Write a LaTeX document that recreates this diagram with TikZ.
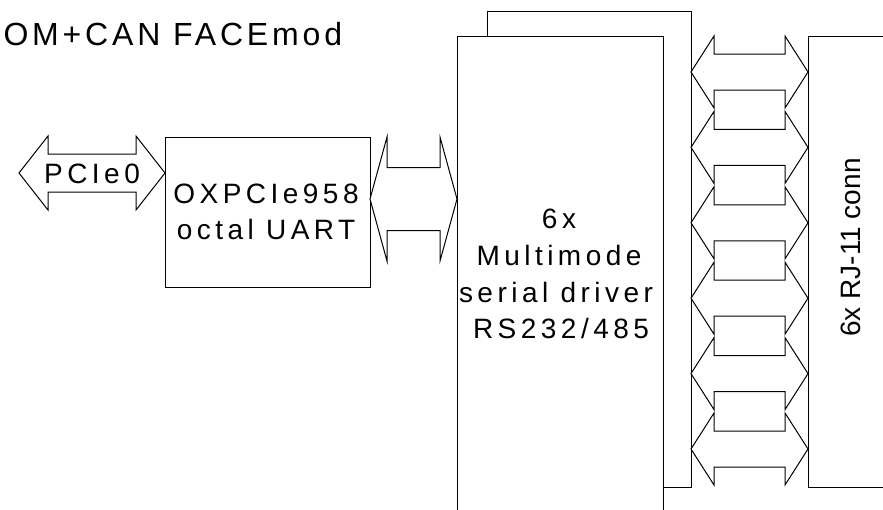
\documentclass[tikz,border=0pt]{standalone}
\usepackage{fontspec}
\setmainfont{Liberation Sans}
\newfontfamily\lsf{Liberation Sans}[LetterSpace=16]
\newfontfamily\tsf{Liberation Sans}[LetterSpace=12]
\newcommand\dblarrow[6]{% x1, x2, yc, headhalf, shafthalf, headlen
  \draw[arr] (#1,#3) -- ({#1+#6},{#3-#4}) -- ({#1+#6},{#3-#5}) -- ({#2-#6},{#3-#5})
    -- ({#2-#6},{#3-#4}) -- (#2,#3) -- ({#2-#6},{#3+#4}) -- ({#2-#6},{#3+#5})
    -- ({#1+#6},{#3+#5}) -- ({#1+#6},{#3+#4}) -- cycle;}
\begin{document}
\begin{tikzpicture}[x=1pt,y=-1pt,line width=1pt,line join=miter,
  box/.style={draw,fill=white,rectangle,inner sep=0pt,anchor=north west},
  arr/.style={draw,fill=white},
  lbl/.style={font=\lsf\fontsize{28}{34}\selectfont,inner sep=0pt,anchor=base},
  ttl/.style={font=\tsf\fontsize{32}{38}\selectfont,inner sep=0pt,anchor=base west},
  vlbl/.style={font=\fontsize{28}{34}\selectfont,inner sep=0pt,rotate=90}]
\clip (0,0) rectangle (883,509);
\fill[white] (0,0) rectangle (883,509);
% title
\node[ttl] (title) at (3,45) {OM+CAN FACEmod};
% boxes
\node[box,minimum width=205,minimum height=150] (uart) at (165,137) {};
\node[box,minimum width=204,minimum height=476] (back) at (487,11) {};
\node[box,minimum width=206,minimum height=500] (drv) at (457,36) {};
\node[box,minimum width=110,minimum height=451] (rj) at (808,36) {};
% arrows
\dblarrow{19}{165}{173}{37}{19}{29}
\dblarrow{370}{457}{199}{62}{31.5}{17}
\foreach \k in {0,...,5}{
  \pgfmathsetmacro\yc{72+75.4*\k}
  \dblarrow{691}{808}{\yc}{36}{18}{23}
}
% labels
\node[lbl] (pcie) at (92,183) {PCIe0};
\node[lbl] (u1) at (266,203) {OXPCIe958};
\node[lbl] (u2) at (266,239) {octal UART};
\node[lbl] (d1) at (559,228) {6x};
\node[lbl] (d2) at (559,265) {Multimode};
\node[lbl] (d3) at (556,302) {serial driver};
\node[lbl] (d4) at (561,338) {RS232/485};
\node[vlbl] (rjtxt) at (851,247.5) {6x RJ-11 conn};
\end{tikzpicture}
\end{document}
